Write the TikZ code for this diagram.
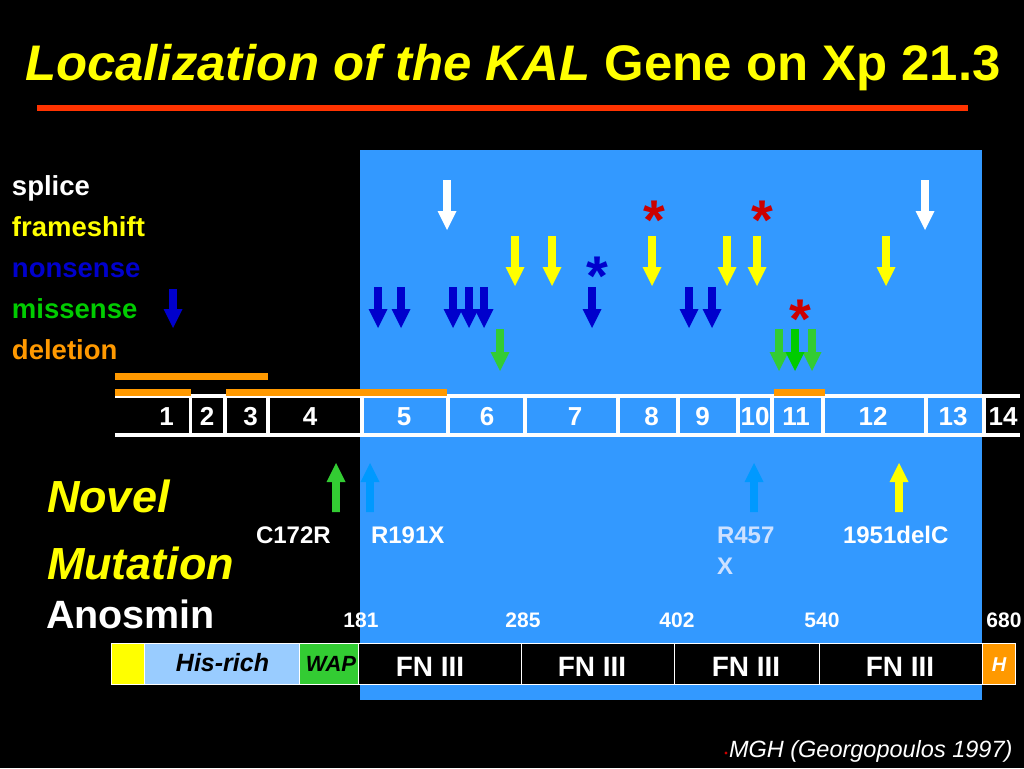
\documentclass[tikz,border=0pt]{standalone}
\usepackage{fontspec}
\setmainfont{Liberation Sans}
\definecolor{bgblue}{RGB}{51,153,255}
\definecolor{nsblue}{RGB}{0,0,204}
\definecolor{msgreen}{RGB}{51,204,51}
\definecolor{msdgreen}{RGB}{0,204,0}
\definecolor{delorange}{RGB}{255,153,0}
\definecolor{ttyellow}{RGB}{255,255,0}
\definecolor{redline}{RGB}{255,51,0}
\definecolor{astred}{RGB}{204,0,0}
\definecolor{ltblue}{RGB}{0,153,255}
\definecolor{hisblue}{RGB}{153,204,255}
\definecolor{paletext}{RGB}{205,225,255}
\newcommand\fsz[1]{\fontsize{#1}{#1}\selectfont}
% block arrow pointing down: x, top, tip, colour
\newcommand\mdown[4]{\fill[#4] (#1-3.8,#2) -- (#1+3.8,#2) -- (#1+3.8,#3-19) -- (#1+9.5,#3-19) -- (#1,#3) -- (#1-9.5,#3-19) -- (#1-3.8,#3-19) -- cycle;}
% block arrow pointing up: x, bottom, tip, colour
\newcommand\mup[4]{\fill[#4] (#1-3.8,#2) -- (#1+3.8,#2) -- (#1+3.8,#3+19) -- (#1+9.5,#3+19) -- (#1,#3) -- (#1-9.5,#3+19) -- (#1-3.8,#3+19) -- cycle;}
\begin{document}
\begin{tikzpicture}[x=1pt,y=-1pt,
  txt/.style={inner sep=0pt, outer sep=0pt, anchor=base west},
  legend/.style={txt, font=\fsz{27.5}\bfseries},
  exon/.style={inner sep=0pt, anchor=base, text=white, font=\fsz{26}\bfseries},
  gline/.style={white, line width=4pt},
  gsep/.style={white, line width=3.5pt},
  del/.style={delorange, line width=6.5pt},
  aster/.style={inner sep=0pt, anchor=base, font=\fsz{56}\bfseries},
  mlabel/.style={txt, text=white, font=\fsz{24}\bfseries},
  aanum/.style={inner sep=0pt, anchor=base, text=white, font=\fsz{21}\bfseries},
  seg/.style={draw=white, line width=0.8pt},
  seglabel/.style={inner sep=0pt, anchor=base, font=\fsz{28}\bfseries, text=white},
  novel/.style={txt, text=ttyellow, font=\fsz{45}\bfseries\itshape}]
\useasboundingbox (0,0) rectangle (1024,768);
\fill[black] (0,0) rectangle (1024,768);
\fill[bgblue] (360,150) rectangle (982,700);

% title
\node[txt, text=ttyellow, font=\fsz{50}\bfseries] (title) at (25,80) {\scalebox{1.018}[1]{\itshape Localization of the KAL\upshape{} Gene on Xp 21.3}};
\draw[redline, line width=6pt] (37,108) coordinate (rl1) -- (968,108) coordinate (rl2);

% legend
\node[legend, text=white] (lsplice) at (12,195) {splice};
\node[legend, text=ttyellow] (lframe) at (12,236) {frameshift};
\node[legend, text=nsblue] (lnons) at (12,277) {nonsense};
\node[legend, text=msdgreen] (lmiss) at (12,318) {missense};
\node[legend, text=delorange] (ldel) at (12,359) {deletion};

% gene bar
\draw[gline] (115,395.5) -- (1020,395.5);
\draw[gline] (115,434.7) -- (1020,434.7);
\foreach \sx in {190.7,225,268,362,448,525,618,678,738,772,823,926,984}
  \draw[gsep] (\sx,397) -- (\sx,433);
\foreach \ex/\lab in {166.7/1,207/2,250.7/3,310/4,404/5,487/6,575/7,651.7/8,702.7/9,755/10,796/11,873/12,953/13,1003/14}
  \node[exon] (ex\lab) at (\ex,425) {\lab};

% deletions
\draw[del] (115,376.7) -- (268,376.7);
\draw[del] (115,392.5) -- (191,392.5);
\draw[del] (226,392.5) -- (447,392.5);
\draw[del] (774,392.5) -- (825,392.5);

% splice
\mdown{447}{180}{230}{white}
\mdown{925}{180}{230}{white}
% frameshift
\foreach \ax in {515,552,652,727,757,886} {\mdown{\ax}{236}{286}{ttyellow}}
% nonsense
\mdown{173}{289}{328}{nsblue}
\foreach \ax in {378,401,453,469,484,592,689,712} {\mdown{\ax}{287}{328}{nsblue}}
% missense
\mdown{500}{329}{371}{msgreen}
\mdown{779}{329}{371}{msgreen}
\mdown{812}{329}{371}{msgreen}
\mdown{795}{329}{371}{msdgreen}

% asterisks
\node[aster, text=astred] (as1) at (654,239) {*};
\node[aster, text=astred] (as2) at (762,239) {*};
\node[aster, text=astred] (as3) at (800,338) {*};
\node[aster, text=nsblue] (as4) at (597,295) {*};

% novel mutations
\mup{336}{512}{463}{msgreen}
\mup{370}{512}{463}{ltblue}
\mup{754}{512}{463}{ltblue}
\mup{899}{512}{463}{ttyellow}
\node[mlabel] (m1) at (256,543) {C172R};
\node[mlabel] (m2) at (371,543) {R191X};
\node[mlabel, text=paletext] (m3) at (717,543) {R457};
\node[mlabel, text=paletext] (m3b) at (717,574) {X};
\node[mlabel] (m4) at (843,543) {1951delC};

\node[novel] (nov) at (47,512) {Novel};
\node[novel] (mut) at (47,579) {Mutation};
\node[txt, text=white, font=\fsz{39.5}\bfseries] (anos) at (46,628) {Anosmin};

% residue numbers
\node[aanum] (n181) at (361,627) {181};
\node[aanum] (n285) at (523,627) {285};
\node[aanum] (n402) at (677,627) {402};
\node[aanum] (n540) at (822,627) {540};
\node[aanum] (n680) at (1004,627) {680};

% protein bar
\filldraw[seg, fill=ttyellow] (111,643) rectangle (144,684);
\filldraw[seg, fill=hisblue] (144,643) rectangle (299,684);
\filldraw[seg, fill=msgreen] (299,643) rectangle (358,684);
\filldraw[seg, fill=black] (358,643) rectangle (521,684);
\filldraw[seg, fill=black] (521,643) rectangle (674,684);
\filldraw[seg, fill=black] (674,643) rectangle (819,684);
\filldraw[seg, fill=black] (819,643) rectangle (982,684);
\filldraw[seg, fill=delorange] (982,643) rectangle (1015,684);
\node[inner sep=0pt, anchor=base, font=\fsz{25}\bfseries\itshape] (his) at (222.5,671) {His-rich};
\node[inner sep=0pt, anchor=base, font=\fsz{22}\bfseries\itshape] (wap) at (331,671) {WAP};
\node[seglabel] (fn1) at (430,676) {FN III};
\node[seglabel] (fn2) at (592,676) {FN III};
\node[seglabel] (fn3) at (746,676) {FN III};
\node[seglabel] (fn4) at (900,676) {FN III};
\node[inner sep=0pt, anchor=base, text=white, font=\fsz{20}\bfseries\itshape] (hh) at (999,671) {H};

% footnote
\fill[astred] (726,753) circle (1.6);
\node[txt, text=white, font=\fsz{23.5}\itshape] (foot) at (729,757) {MGH (Georgopoulos 1997)};
\end{tikzpicture}
\end{document}
